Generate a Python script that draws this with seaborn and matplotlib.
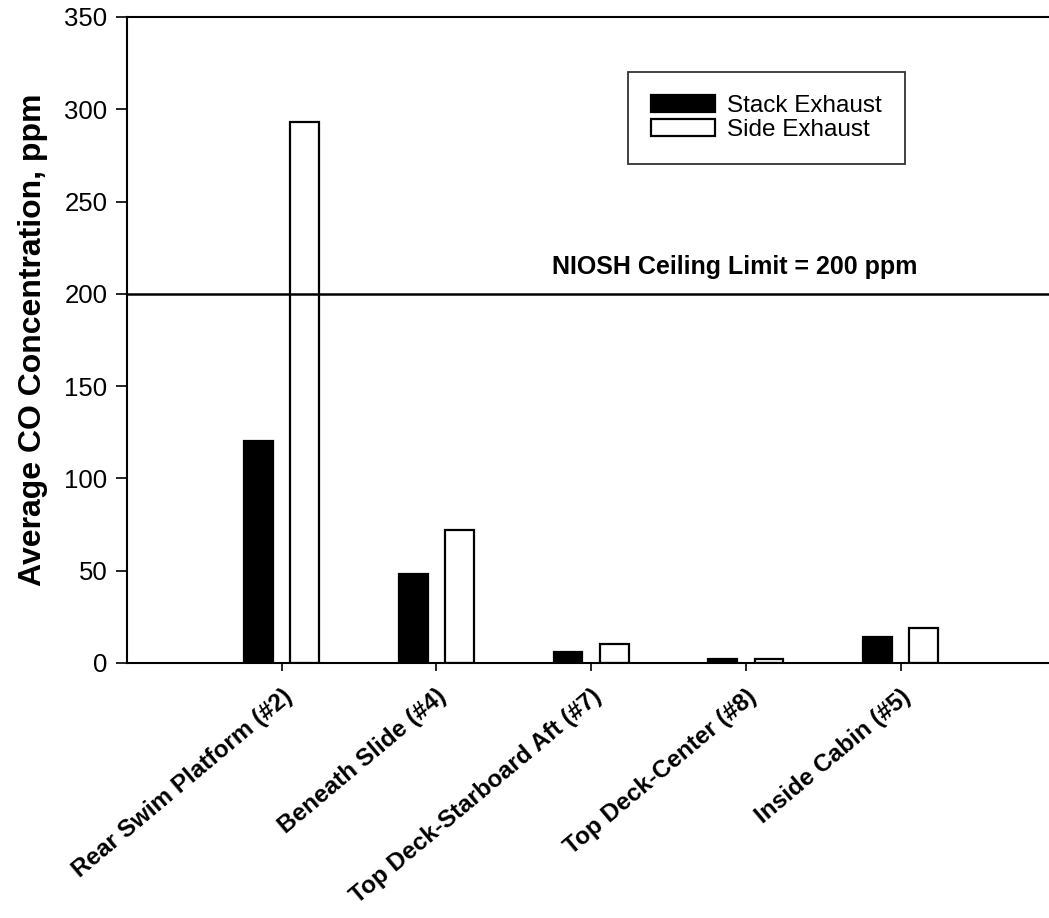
import pandas as pd
import matplotlib
matplotlib.use("Agg")
import matplotlib.pyplot as plt
import seaborn as sns

# Datos
ubicaciones = ["Rear Swim Platform (#2)", "Beneath Slide (#4)",
               "Top Deck-Starboard Aft (#7)", "Top Deck-Center (#8)",
               "Inside Cabin (#5)"]
stack_exhaust = [120, 48, 6, 2, 14]
side_exhaust = [293, 72, 10, 2, 19]
series = ["Stack Exhaust", "Side Exhaust"]
limite_niosh = 200

sns.set_theme(style="white", rc={
    'text.color': 'black', 'axes.labelcolor': 'black',
    'xtick.color': 'black', 'ytick.color': 'black',
})
plt.rcParams['font.family'] = ['Liberation Sans', 'DejaVu Sans']

datos = pd.DataFrame({
    'Ubicacion': ubicaciones * 2,
    'Serie': [series[0]] * len(ubicaciones) + [series[1]] * len(ubicaciones),
    'CO': stack_exhaust + side_exhaust,
})

fig = plt.figure(figsize=(10.49, 9.18), dpi=100)
ax = fig.add_axes([0.121, 0.278, 0.885, 0.7035])

sns.barplot(data=datos, x='Ubicacion', y='CO', hue='Serie',
            palette={series[0]: 'black', series[1]: 'white'},
            width=0.6, gap=0.38, edgecolor='black', linewidth=1.6,
            ax=ax)

ax.axhline(limite_niosh, color='black', linewidth=1.8, zorder=1)
ax.text(4.11, limite_niosh + 8, "NIOSH Ceiling Limit = 200 ppm",
        ha='right', va='bottom', fontsize=18, fontweight='bold')

ax.set_xlim(-1, 5)
ax.set_ylim(0, 350)
ax.set_yticks(range(0, 351, 50))
ax.set_xlabel('')
ax.set_ylabel('Average CO Concentration, ppm', fontsize=23,
              fontweight='bold', labelpad=12)
ax.tick_params(axis='y', labelsize=18.5, direction='out', length=8,
               width=1.2, left=True, pad=6)
ax.tick_params(axis='x', labelsize=17.5, direction='out', length=6,
               width=1.2, bottom=True, pad=10)
plt.setp(ax.get_xticklabels(), rotation=40, ha='right',
         rotation_mode='anchor', fontweight='bold')

for lado in ['left', 'bottom', 'top']:
    ax.spines[lado].set_color('black')
    ax.spines[lado].set_linewidth(1.5)
ax.spines['right'].set_visible(False)

leg = ax.legend(loc='upper left', bbox_to_anchor=(0.54, 0.915),
                borderaxespad=0, fontsize=17.5, frameon=True,
                fancybox=False, edgecolor='black', handlelength=2.6,
                handleheight=0.7, borderpad=0.95, labelspacing=0.08,
                handletextpad=0.5)
leg.get_frame().set_linewidth(1.3)

plt.savefig('out.png', dpi=100)
plt.close()
